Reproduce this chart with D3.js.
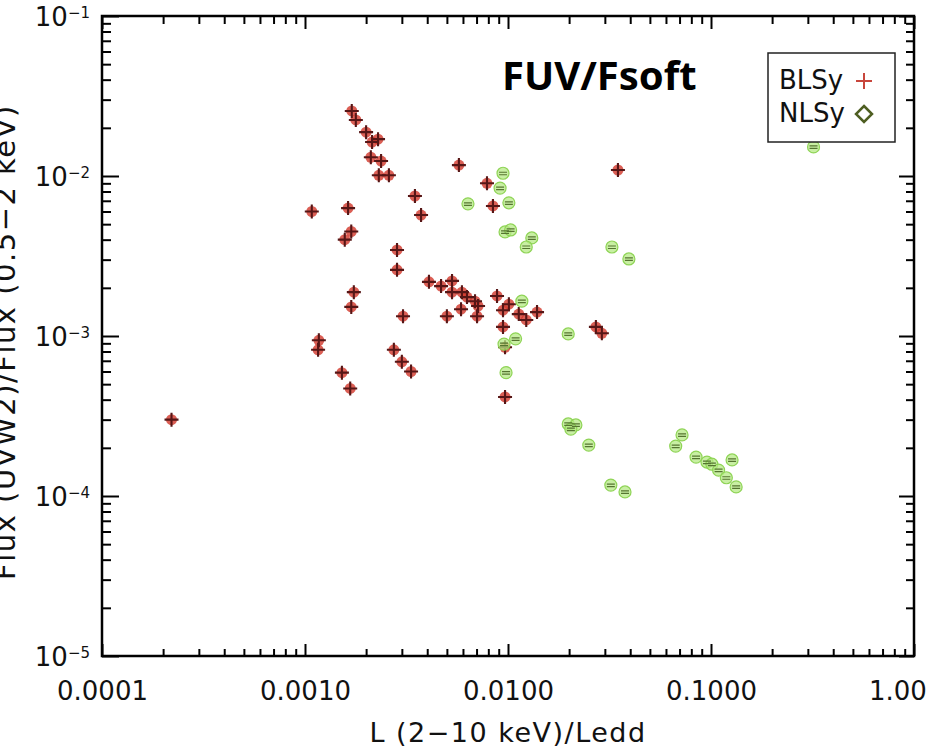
<!DOCTYPE html>
<html>
<head>
<meta charset="utf-8">
<script src="https://cdn.jsdelivr.net/npm/d3@7"></script>
<style>
  body { margin: 0; background: #fff; }
  svg { display: block; font-family: "DejaVu Sans", sans-serif; }
</style>
</head>
<body>
<div id="chart"></div>
<script>
// BLSy points: L(2-10 keV)/Ledd and Flux(UVW2)/Flux(0.5-2 keV)
var blsyLedd = [
  0.00022, 0.0017, 0.00178, 0.0020, 0.00229, 0.00214, 0.00211, 0.00237, 0.00231, 0.00259,
  0.00348, 0.00373, 0.00108, 0.00163, 0.00169, 0.00157, 0.00284, 0.00284, 0.00174, 0.00169,
  0.00304, 0.00117, 0.00116, 0.00274, 0.0030, 0.00333, 0.00152, 0.00167, 0.00573, 0.00788,
  0.00843, 0.0348, 0.0271, 0.0290, 0.00408, 0.00468, 0.0053, 0.0053, 0.00593, 0.00628,
  0.00688, 0.00712, 0.00587, 0.0050, 0.00704, 0.00883, 0.0101, 0.00945, 0.0113, 0.0123,
  0.0139, 0.00945, 0.00967, 0.00967
];
var blsyRatio = [
  0.00030, 0.0255, 0.0224, 0.0188, 0.0170, 0.0163, 0.0131, 0.0124, 0.0101, 0.0101,
  0.0075, 0.0057, 0.0060, 0.0063, 0.0045, 0.0040, 0.00345, 0.00259, 0.00188, 0.00152,
  0.00133, 0.00094, 0.00082, 0.00082, 0.00069, 0.00060, 0.00059, 0.00047, 0.0117, 0.0090,
  0.0065, 0.0109, 0.00114, 0.00104, 0.00218, 0.00205, 0.00221, 0.00188, 0.00188, 0.00175,
  0.00165, 0.00154, 0.00147, 0.00133, 0.00133, 0.00178, 0.00158, 0.00145, 0.00137, 0.00126,
  0.00141, 0.00114, 0.00085, 0.000416
];

// NLSy points
var nlsyLedd = [
  0.00945, 0.00914, 0.0101, 0.00635, 0.00967, 0.0103, 0.0131, 0.0123, 0.0325, 0.0394,
  0.32, 0.0117, 0.0109, 0.00956, 0.00978, 0.0198, 0.0198, 0.0216, 0.0204, 0.025,
  0.0321, 0.0377, 0.072, 0.067, 0.0844, 0.0955, 0.101, 0.109, 0.119, 0.127, 0.133
];
var nlsyRatio = [
  0.0104, 0.0084, 0.0068, 0.0067, 0.00447, 0.0046, 0.0041, 0.0036, 0.0036, 0.00303,
  0.0152, 0.00165, 0.00096, 0.00089, 0.00059, 0.00103, 0.000282, 0.000278, 0.000262, 0.000208,
  0.000117, 0.000106, 0.000241, 0.000205, 0.000175, 0.000163, 0.000158, 0.000145, 0.00013, 0.000168,
  0.000114
];

var xMajor = [0.0001, 0.001, 0.01, 0.1, 1];
var yMajor = [1e-5, 1e-4, 1e-3, 1e-2, 1e-1];

var width = 928;
var height = 750;
var margin = { top: 16, right: 14, bottom: 94, left: 102 };

var svg = d3.select('#chart')
  .append('svg')
  .attr('width', width)
  .attr('height', height);

var x = d3.scaleLog()
  .domain([1e-4, 1])
  .range([margin.left, width - margin.right]);

var y = d3.scaleLog()
  .domain([1e-5, 1e-1])
  .range([height - margin.bottom, margin.top]);

// minor ticks 2..9 in every decade
function minors(majors) {
  var out = [];
  for (var i = 0; i < majors.length - 1; i++) {
    for (var k = 2; k <= 9; k++) out.push(majors[i] * k);
  }
  return out;
}

var x0 = x.range()[0], x1 = x.range()[1];
var y0 = y.range()[0], y1 = y.range()[1];

// axes, ticks pointing inward like IDL
function tickStyle(g) {
  g.select('.domain').remove();
  g.selectAll('.tick line').attr('stroke', '#000').attr('stroke-width', 2);
}

svg.append('g')
  .attr('transform', `translate(0,${y0})`)
  .call(d3.axisBottom(x).tickValues(minors(xMajor)).tickSizeInner(-7).tickSizeOuter(0).tickFormat(''))
  .call(tickStyle);
svg.append('g')
  .attr('transform', `translate(0,${y0})`)
  .call(d3.axisBottom(x).tickValues(xMajor).tickSizeInner(-12).tickSizeOuter(0)
    .tickPadding(26).tickFormat(d3.format('.4f')))
  .call(tickStyle)
  .call(g => g.selectAll('text').attr('font-size', '26px').attr('fill', '#111')
    .attr('font-family', '"DejaVu Sans", sans-serif'));

svg.append('g')
  .attr('transform', `translate(0,${y1})`)
  .call(d3.axisTop(x).tickValues(minors(xMajor)).tickSizeInner(-8).tickSizeOuter(0).tickFormat(''))
  .call(tickStyle);
svg.append('g')
  .attr('transform', `translate(0,${y1})`)
  .call(d3.axisTop(x).tickValues(xMajor).tickSizeInner(-13).tickSizeOuter(0).tickFormat(''))
  .call(tickStyle);

svg.append('g')
  .attr('transform', `translate(${x0},0)`)
  .call(d3.axisLeft(y).tickValues(minors(yMajor)).tickSizeInner(-9).tickSizeOuter(0).tickFormat(''))
  .call(tickStyle);
svg.append('g')
  .attr('transform', `translate(${x0},0)`)
  .call(d3.axisLeft(y).tickValues(yMajor).tickSizeInner(-17).tickSizeOuter(0).tickPadding(12))
  .call(tickStyle)
  .call(g => g.selectAll('text')
    .attr('font-size', '26px')
    .attr('fill', '#111')
    .attr('font-family', '"DejaVu Sans", sans-serif')
    .attr('dy', '0.38em')
    .each(function (d) {
      var t = d3.select(this).text('');
      t.append('tspan').text('10');
      t.append('tspan').attr('dy', '-0.55em').attr('font-size', '15px')
        .text('\u2212' + Math.abs(Math.round(Math.log10(d))));
    }));

svg.append('g')
  .attr('transform', `translate(${x1},0)`)
  .call(d3.axisRight(y).tickValues(minors(yMajor)).tickSizeInner(-8).tickSizeOuter(0).tickFormat(''))
  .call(tickStyle);
svg.append('g')
  .attr('transform', `translate(${x1},0)`)
  .call(d3.axisRight(y).tickValues(yMajor).tickSizeInner(-15).tickSizeOuter(0).tickFormat(''))
  .call(tickStyle);

// frame
svg.append('rect')
  .attr('x', x0).attr('y', y1)
  .attr('width', x1 - x0).attr('height', y0 - y1)
  .attr('fill', 'none').attr('stroke', '#000').attr('stroke-width', 2.5);

// axis titles
svg.append('text')
  .attr('x', (x0 + x1) / 2)
  .attr('y', 742)
  .attr('text-anchor', 'middle')
  .attr('font-size', '27px')
  .attr('letter-spacing', '1.5px')
  .attr('fill', '#111')
  .text('L (2\u221210 keV)/Ledd');

svg.append('text')
  .attr('transform', 'translate(15,342) rotate(-90)')
  .attr('text-anchor', 'middle')
  .attr('font-size', '29px')
  .attr('letter-spacing', '1.5px')
  .attr('fill', '#111')
  .text('Flux (UVW2)/Flux (0.5\u22122 keV)');

// BLSy: red blob with dark plus
var blsy = blsyLedd.map((d, i) => ({ l: d, r: blsyRatio[i] }));
var nlsy = nlsyLedd.map((d, i) => ({ l: d, r: nlsyRatio[i] }));

var red = svg.append('g');
red.selectAll('circle')
  .data(blsy)
  .join('circle')
  .attr('cx', d => x(d.l))
  .attr('cy', d => y(d.r))
  .attr('r', 5.5)
  .attr('fill', '#d2372b')
  .attr('opacity', 0.8);
red.selectAll('path')
  .data(blsy)
  .join('path')
  .attr('transform', d => `translate(${x(d.l)},${y(d.r)})`)
  .attr('d', 'M-7,0H7M0,-7V7')
  .attr('stroke', '#561616')
  .attr('stroke-width', 2.1);

// NLSy: green blobs with small error bar
var green = svg.append('g');
green.selectAll('circle')
  .data(nlsy)
  .join('circle')
  .attr('cx', d => x(d.l))
  .attr('cy', d => y(d.r))
  .attr('r', 6)
  .attr('fill', '#b6ea84')
  .attr('fill-opacity', 0.75)
  .attr('stroke', '#8fd456')
  .attr('stroke-width', 1.2);
green.selectAll('path')
  .data(nlsy)
  .join('path')
  .attr('transform', d => `translate(${x(d.l)},${y(d.r)})`)
  .attr('d', 'M-4,-1H4M-4,1.5H4')
  .attr('stroke', '#557530')
  .attr('stroke-width', 1.2);

// legend
var legend = svg.append('g');
legend.append('rect')
  .attr('x', 768).attr('y', 53)
  .attr('width', 127).attr('height', 89)
  .attr('fill', '#fff').attr('stroke', '#222').attr('stroke-width', 1.5);
legend.append('text').attr('x', 779).attr('y', 89).attr('font-size', '26px').attr('fill', '#111').text('BLSy');
legend.append('text').attr('x', 779).attr('y', 122).attr('font-size', '26px').attr('fill', '#111').text('NLSy');
legend.append('path')
  .attr('transform', 'translate(864,81)')
  .attr('d', 'M-8,0H8M0,-8V8')
  .attr('stroke', '#c8463c').attr('stroke-width', 2);
legend.append('path')
  .attr('transform', 'translate(864,114)')
  .attr('d', 'M0,-8L8,0L0,8L-8,0Z')
  .attr('fill', '#fff').attr('stroke', '#4e5e22').attr('stroke-width', 2.5);

// panel label
svg.append('text')
  .attr('x', 502)
  .attr('y', 90)
  .attr('font-family', '"Noto Sans", sans-serif')
  .attr('font-weight', 'bold')
  .attr('font-size', '40px')
  .attr('fill', '#000')
  .text('FUV/Fsoft');
</script>
</body>
</html>
